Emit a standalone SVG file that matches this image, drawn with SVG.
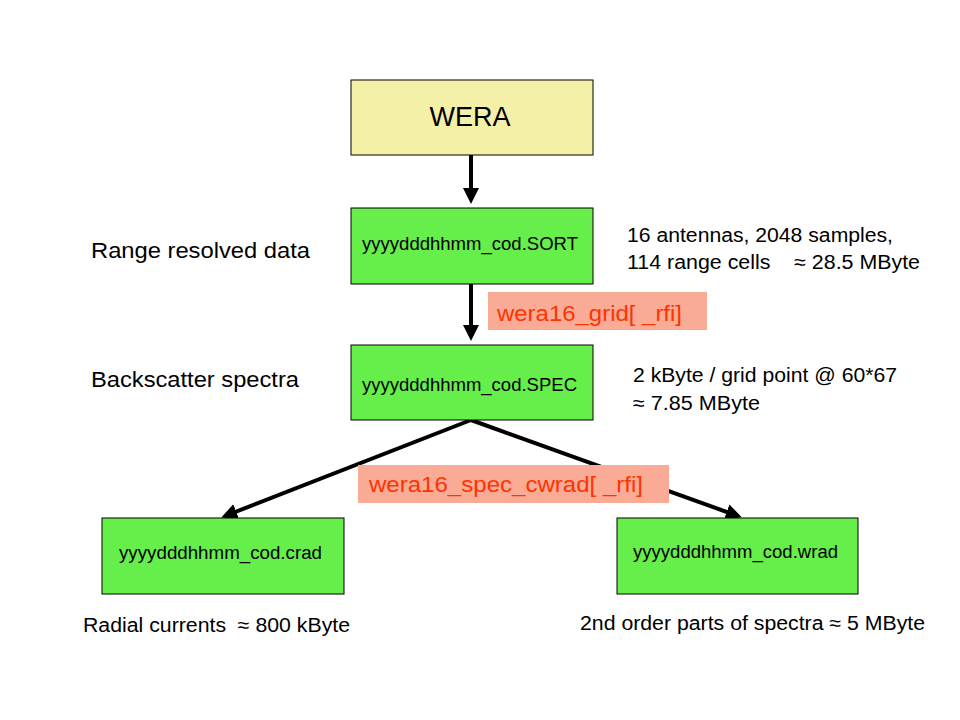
<svg xmlns="http://www.w3.org/2000/svg" width="960" height="720" viewBox="0 0 960 720">
<style>
text{font-family:"Liberation Sans",Arial,sans-serif;fill:#000}
.box{fill:#66EE4A;stroke:#000;stroke-width:1}
.lbl{fill:#F9AB96}
.red{fill:#FF3300;font-size:22px}
.fn{font-size:18px}
.side{font-size:22px}
.info{font-size:20px}
.conn{stroke:#000;stroke-width:4;fill:none}
</style>
<defs>
<marker id="ah" markerWidth="4" markerHeight="4" refX="3" refY="2" orient="auto" markerUnits="strokeWidth">
<path d="M0,0 L4,2 L0,4 z" fill="#000"/>
</marker>
</defs>
<rect width="960" height="720" fill="#fff"/>
<g id="connectors">
<line class="conn" x1="471" y1="155" x2="471" y2="200" marker-end="url(#ah)"/>
<line class="conn" x1="471" y1="284" x2="471" y2="337" marker-end="url(#ah)"/>
<line class="conn" x1="471" y1="420" x2="225" y2="516" marker-end="url(#ah)"/>
<line class="conn" x1="471" y1="420" x2="738" y2="516" marker-end="url(#ah)"/>
</g>
<g id="wera">
<rect x="351" y="80" width="242" height="75" fill="#F5F0A8" stroke="#000"/>
<text x="470" y="126" font-size="27" text-anchor="middle">WERA</text>
</g>
<g id="sort">
<rect class="box" x="351" y="208" width="242" height="76"/>
<text class="fn" x="362" y="250" textLength="216" lengthAdjust="spacingAndGlyphs">yyyydddhhmm_cod.SORT</text>
</g>
<g id="spec">
<rect class="box" x="351" y="345" width="242" height="75"/>
<text class="fn" x="362" y="391" textLength="215" lengthAdjust="spacingAndGlyphs">yyyydddhhmm_cod.SPEC</text>
</g>
<g id="crad">
<rect class="box" x="102" y="518" width="242" height="76"/>
<text class="fn" x="119" y="559" textLength="203" lengthAdjust="spacingAndGlyphs">yyyydddhhmm_cod.crad</text>
</g>
<g id="wrad">
<rect class="box" x="617" y="518" width="241" height="76"/>
<text class="fn" x="633" y="558" textLength="205" lengthAdjust="spacingAndGlyphs">yyyydddhhmm_cod.wrad</text>
</g>
<g id="label-grid">
<rect class="lbl" x="488" y="292" width="219" height="38"/>
<text class="red" x="497" y="321" textLength="185" lengthAdjust="spacingAndGlyphs">wera16_grid[ _rfi]</text>
</g>
<g id="label-cwrad">
<rect class="lbl" x="358" y="465" width="311" height="38"/>
<text class="red" x="369" y="492" textLength="274" lengthAdjust="spacingAndGlyphs">wera16_spec_cwrad[ _rfi]</text>
</g>
<g id="texts">
<text class="side" x="91" y="258" textLength="219" lengthAdjust="spacingAndGlyphs">Range resolved data</text>
<text class="side" x="91" y="387" textLength="208" lengthAdjust="spacingAndGlyphs">Backscatter spectra</text>
<text class="info" x="627" y="242" textLength="266" lengthAdjust="spacingAndGlyphs">16 antennas, 2048 samples,</text>
<text class="info" x="627" y="269" textLength="293" lengthAdjust="spacingAndGlyphs" xml:space="preserve">114 range cells    ≈ 28.5 MByte</text>
<text class="info" x="633" y="382" textLength="264" lengthAdjust="spacingAndGlyphs">2 kByte / grid point @ 60*67</text>
<text class="info" x="633" y="410" textLength="127" lengthAdjust="spacingAndGlyphs">≈ 7.85 MByte</text>
<text class="info" x="83" y="632" textLength="267" lengthAdjust="spacingAndGlyphs" xml:space="preserve">Radial currents  ≈ 800 kByte</text>
<text class="info" x="580" y="630" textLength="345" lengthAdjust="spacingAndGlyphs">2nd order parts of spectra ≈ 5 MByte</text>
</g>
</svg>
